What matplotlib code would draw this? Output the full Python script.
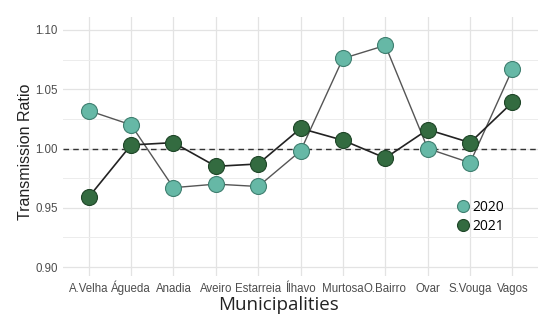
import matplotlib.pyplot as plt

# municipalities and transmission ratios
municipalities = ['A.Velha', 'Águeda', 'Anadia', 'Aveiro', 'Estarreia', 'Ílhavo',
                  'Murtosa', 'O.Bairro', 'Ovar', 'S.Vouga', 'Vagos']
ratio_2020 = [1.032, 1.020, 0.967, 0.970, 0.968, 0.998, 1.076, 1.087, 1.000, 0.988, 1.067]
ratio_2021 = [0.959, 1.003, 1.005, 0.985, 0.987, 1.017, 1.007, 0.992, 1.016, 1.005, 1.039]
yticks = [0.90, 0.95, 1.00, 1.05, 1.10]

plt.rcParams['font.family'] = ['Liberation Sans', 'DejaVu Sans']

fig = plt.figure(figsize=(5.5, 3.26), dpi=100)
ax = fig.add_axes([0.115, 0.153, 0.863, 0.795])

x = list(range(len(municipalities)))
ax.axhline(1.0, color='#333333', ls=(0, (4, 3)), lw=1, zorder=1)
ax.plot(x, ratio_2020, color='#555555', lw=1, zorder=2)
ax.plot(x, ratio_2021, color='#222222', lw=1.2, zorder=2)
ax.plot(x, ratio_2020, 'o', ms=11.5, mfc='#66b8a6', mec='#3f7f70', mew=0.8, zorder=3, label='2020')
ax.plot(x, ratio_2021, 'o', ms=11.5, mfc='#336b40', mec='#1e4527', mew=0.8, zorder=3, label='2021')

ax.set_xlim(-0.6, 10.6)
ax.set_ylim(0.8924, 1.111)
ax.set_xticks(x)
ax.set_xticklabels(municipalities)
ax.set_yticks(yticks)
ax.set_yticklabels(['%.2f' % v for v in yticks])
ax.set_yticks([0.925, 0.975, 1.025, 1.075], minor=True)
ax.grid(True, which='major', color='#e3e3e3', lw=0.9)
ax.grid(True, which='minor', axis='y', color='#ececec', lw=0.7)
ax.set_axisbelow(True)
for s in ax.spines.values():
    s.set_visible(False)
ax.tick_params(which='both', length=0, labelsize=8.3, labelcolor='#4d4d4d', pad=4)
ax.tick_params(axis='x', pad=11.5)
for lab in ax.get_xticklabels():
    lab.set_va('baseline')

ax.set_xlabel('Municipalities', fontsize=13.5, family=['Open Sans', 'DejaVu Sans'],
              color='#222222', va='baseline')
ax.xaxis.set_label_coords(0.453, -0.131)
ax.set_ylabel('Transmission Ratio', fontsize=11.5, color='#222222')
ax.yaxis.set_label_coords(-0.063, 0.479)

ax.legend(loc='upper left', bbox_to_anchor=(0.81, 0.32), frameon=False,
          handletextpad=0.1, labelspacing=0.3, borderpad=0, handlelength=1.2, markerscale=0.75,
          prop={'family': ['Open Sans', 'DejaVu Sans'], 'size': 10})

fig.savefig('out.png', dpi=100)
